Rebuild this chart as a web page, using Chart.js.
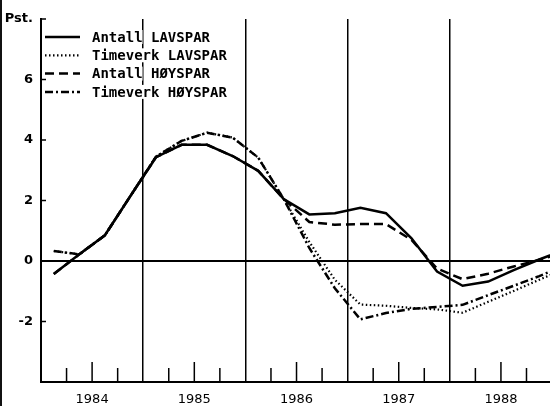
<!DOCTYPE html>
<html>
<head>
<meta charset="utf-8">
<script src="https://cdn.jsdelivr.net/npm/chart.js@4.4.1/dist/chart.umd.min.js"></script>
<style>
  html, body { margin: 0; padding: 0; background: #fff; }
  #ramme { position: relative; width: 550px; height: 406px; }
  #kant { position: absolute; left: 0; top: 0; width: 2px; height: 406px; background: #111; }
</style>
</head>
<body>
<div id="ramme">
  <canvas id="graf" width="550" height="406"></canvas>
  <div id="kant"></div>
</div>
<script>
// kvartalsmidtpunkt, 1984 K1 - 1988 K4 (+ ett punkt ut over kanten)
let kvartal = [1984.125, 1984.375, 1984.625, 1984.875,
               1985.125, 1985.375, 1985.625, 1985.875,
               1986.125, 1986.375, 1986.625, 1986.875,
               1987.125, 1987.375, 1987.625, 1987.875,
               1988.125, 1988.375, 1988.625, 1988.875,
               1989.125];

let antallLav   = [-0.43, 0.22, 0.85, 2.15, 3.43, 3.84, 3.84, 3.47, 2.98, 2.05, 1.54, 1.58, 1.76, 1.58, 0.75, -0.35, -0.82, -0.68, -0.30, 0.05, 0.38];
let timeverkLav = [0.33, 0.22, 0.85, 2.15, 3.45, 3.97, 4.24, 4.08, 3.42, 2.05, 0.63, -0.62, -1.44, -1.48, -1.55, -1.60, -1.71, -1.35, -0.99, -0.62, -0.26];
let antallHoy   = [-0.43, 0.22, 0.85, 2.15, 3.43, 3.84, 3.84, 3.47, 2.98, 2.05, 1.29, 1.20, 1.22, 1.22, 0.70, -0.25, -0.60, -0.42, -0.18, 0.04, 0.28];
let timeverkHoy = [0.33, 0.22, 0.85, 2.15, 3.45, 3.97, 4.24, 4.08, 3.42, 2.05, 0.43, -0.90, -1.93, -1.72, -1.58, -1.52, -1.45, -1.13, -0.82, -0.50, -0.15];

let aar = [1984, 1985, 1986, 1987, 1988];
let yVerdier = [-4, -2, 0, 2, 4, 6, 8];
let yEnhet = "Pst.";

function punkter(verdier) {
  return verdier.map((v, i) => ({ x: kvartal[i], y: v }));
}

function serie(navn, verdier, strek, bredde) {
  return {
    label: navn,
    data: punkter(verdier),
    borderColor: "#000",
    borderWidth: bredde,
    borderDash: strek,
    pointRadius: 0,
    tension: 0,
    fill: false
  };
}

// korte streker innenfor aksene
const indreStreker = {
  id: "indreStreker",
  afterDraw(chart) {
    const { ctx, chartArea, scales } = chart;
    ctx.save();
    ctx.strokeStyle = "#000";
    ctx.lineWidth = 1.5;
    scales.y.ticks.forEach(t => {
      const py = scales.y.getPixelForValue(t.value);
      ctx.beginPath();
      ctx.moveTo(chartArea.left, py);
      ctx.lineTo(chartArea.left + 5, py);
      ctx.stroke();
    });
    scales.x.ticks.forEach(t => {
      const del = t.value % 1;
      if (del === 0) return;
      const lengde = del === 0.5 ? 20 : 14;
      const px = scales.x.getPixelForValue(t.value);
      ctx.beginPath();
      ctx.moveTo(px, chartArea.bottom);
      ctx.lineTo(px, chartArea.bottom - lengde);
      ctx.stroke();
    });
    ctx.restore();
  }
};

// forklaring oppe til venstre
const forklaring = {
  id: "forklaring",
  afterDraw(chart) {
    const { ctx, chartArea } = chart;
    ctx.save();
    ctx.font = "bold 14px 'DejaVu Sans Mono'";
    ctx.textBaseline = "middle";
    chart.data.datasets.forEach((ds, i) => {
      const y = chartArea.top + 18 + i * 18.3;
      ctx.strokeStyle = "#000";
      ctx.lineWidth = ds.borderWidth;
      ctx.setLineDash(ds.borderDash || []);
      ctx.beginPath();
      ctx.moveTo(chartArea.left + 4, y);
      ctx.lineTo(chartArea.left + 39, y);
      ctx.stroke();
      ctx.setLineDash([]);
      let x = chartArea.left + 51;
      ds.label.split(" ").forEach(ord => {
        const b = ctx.measureText(ord).width;
        ctx.fillStyle = "#fff";
        ctx.fillRect(x, y - 7, b, 14);
        ctx.fillStyle = "#000";
        ctx.fillText(ord, x, y + 1);
        x += b + ctx.measureText(" ").width;
      });
    });
    ctx.restore();
  }
};

new Chart(document.getElementById("graf").getContext("2d"), {
  type: "line",
  data: {
    datasets: [
      serie("Antall LAVSPAR", antallLav, [], 2.5),
      serie("Timeverk LAVSPAR", timeverkLav, [1.5, 2.5], 2.2),
      serie("Antall HØYSPAR", antallHoy, [9, 5], 2.5),
      serie("Timeverk HØYSPAR", timeverkHoy, [8, 3, 2, 3], 2.5)
    ]
  },
  options: {
    responsive: false,
    animation: false,
    layout: { padding: { top: 19, left: 0, right: 0, bottom: 0 } },
    plugins: {
      legend: { display: false },
      tooltip: { enabled: false }
    },
    scales: {
      x: {
        type: "linear",
        min: 1984,
        max: 1988.98,
        afterBuildTicks: s => {
          let t = [];
          aar.forEach(a => [0, 0.25, 0.5, 0.75].forEach(d => t.push({ value: a + d })));
          s.ticks = t;
        },
        afterFit: s => { s.height = 24; },
        ticks: {
          autoSkip: false,
          maxRotation: 0,
          padding: 10,
          color: "#000",
          font: { family: "'DejaVu Sans'", size: 13 },
          callback: v => (v % 1 === 0.5 ? String(Math.floor(v)) : "")
        },
        grid: {
          drawTicks: false,
          color: c => (c.tick.value % 1 === 0 && c.tick.value > 1984 ? "#000" : "transparent"),
          lineWidth: 1.5
        },
        border: { color: "#000", width: 2 }
      },
      y: {
        min: -4,
        max: 8,
        afterBuildTicks: s => { s.ticks = yVerdier.map(v => ({ value: v })); },
        afterFit: s => { s.width = 41; },
        ticks: {
          padding: 8,
          color: "#000",
          font: { family: "'DejaVu Sans'", size: 13, weight: "bold" },
          callback: v => (v === 8 ? yEnhet : v === -4 ? "" : String(v))
        },
        grid: {
          drawTicks: false,
          color: c => (c.tick.value === 0 ? "#000" : "transparent"),
          lineWidth: 2
        },
        border: { color: "#000", width: 2 }
      }
    }
  },
  plugins: [indreStreker, forklaring]
});
</script>
</body>
</html>
